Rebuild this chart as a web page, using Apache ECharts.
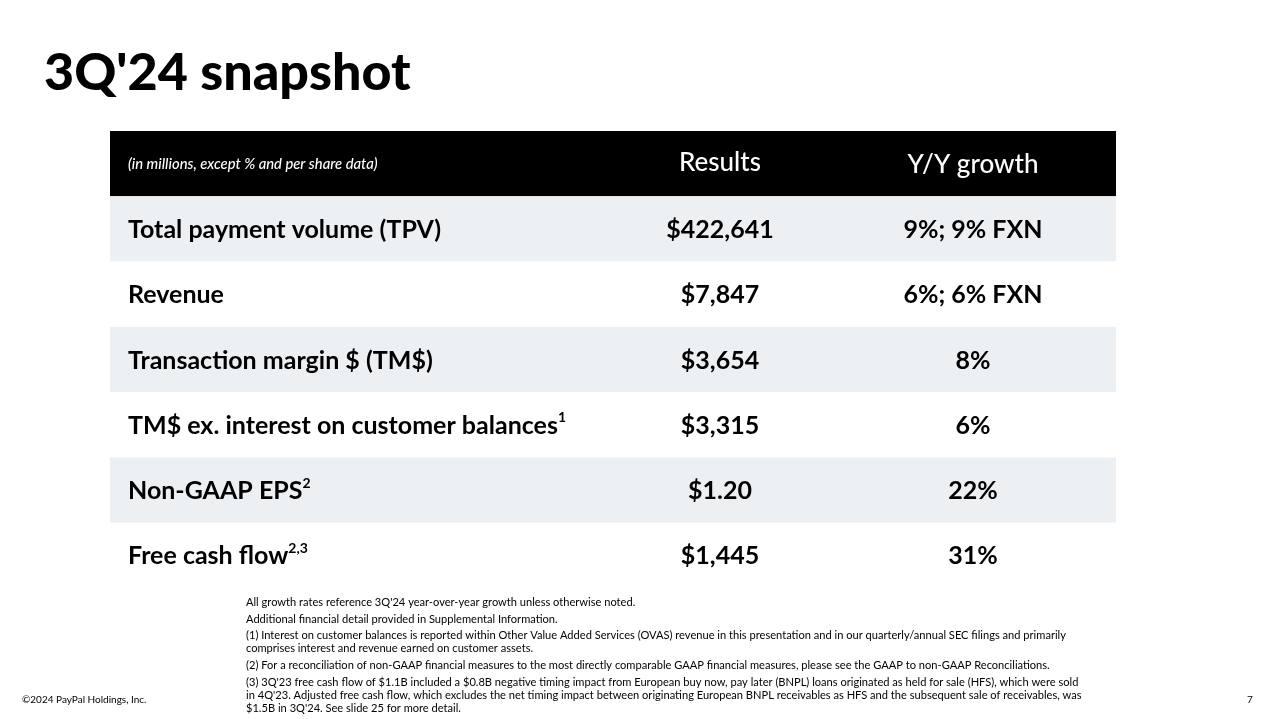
<!DOCTYPE html>
<html><head><meta charset="utf-8">
<script src="https://cdn.jsdelivr.net/npm/echarts@6/dist/echarts.min.js"></script>
<style>html,body{margin:0;padding:0;background:#fff}#c{width:1280px;height:719px}</style>
</head><body><div id="c"></div>
<script>
const titleText = "3Q'24 snapshot";
const headerNote = "(in millions, except % and per share data)";
const columnHeaders = ["Results", "Y/Y growth"];
const metrics = ["Total payment volume (TPV)", "Revenue", "Transaction margin $ (TM$)", "TM$ ex. interest on customer balances", "Non-GAAP EPS", "Free cash flow"];
const footRefs = ["", "", "", "1", "2", "2,3"];
const results = ["$422,641", "$7,847", "$3,654", "$3,315", "$1.20", "$1,445"];
const growth = ["9%; 9% FXN", "6%; 6% FXN", "8%", "6%", "22%", "31%"];
const footnotes = [
  "All growth rates reference 3Q'24 year-over-year growth unless otherwise noted.",
  "Additional financial detail provided in Supplemental Information.",
  "(1) Interest on customer balances is reported within Other Value Added Services (OVAS) revenue in this presentation and in our quarterly/annual SEC filings and primarily",
  "comprises interest and revenue earned on customer assets.",
  "(2) For a reconciliation of non-GAAP financial measures to the most directly comparable GAAP financial measures, please see the GAAP to non-GAAP Reconciliations.",
  "(3) 3Q'23 free cash flow of $1.1B included a $0.8B negative timing impact from European buy now, pay later (BNPL) loans originated as held for sale (HFS), which were sold",
  "in 4Q'23. Adjusted free cash flow, which excludes the net timing impact between originating European BNPL receivables as HFS and the subsequent sale of receivables, was",
  "$1.5B in 3Q'24. See slide 25 for more detail."
];
const copyright = "©2024 PayPal Holdings, Inc.";
const pageNumber = "7";

const FONT = "Lato";
const rowNames = ["header"].concat(metrics);
const rowData = rowNames.map((n, i) => [0, i]);
const footY = [603, 620, 636, 649, 666, 683, 696, 709];

const chart = echarts.init(document.getElementById('c'), null, {renderer: 'canvas'});
function renderItem(params, api) {
  const i = params.dataIndex;
  const cs = params.coordSys;
  const y = api.coord([0, i])[1];
  const h = api.size([0, 1])[1];
  const children = [];
  const bg = i === 0 ? '#000000' : (i % 2 === 1 ? '#edf0f3' : '#ffffff');
  children.push({type: 'rect', shape: {x: cs.x, y: y - h / 2, width: cs.width, height: h}, style: {fill: bg}});
  const c1 = cs.x + 610, c2 = cs.x + 863;
  if (i === 0) {
    children.push({type: 'text', style: {x: cs.x + 18, y: y + 1, text: headerNote, fill: '#fff', font: 'italic 500 14.8px ' + FONT, verticalAlign: 'middle', align: 'left'}});
    children.push({type: 'text', style: {x: c1, y: y - 1, text: columnHeaders[0], fill: '#fff', font: '500 26px ' + FONT, verticalAlign: 'middle', align: 'center'}});
    children.push({type: 'text', style: {x: c2, y: y + 1, text: columnHeaders[1], fill: '#fff', font: '500 26px ' + FONT, verticalAlign: 'middle', align: 'center'}});
  } else {
    const k = i - 1;
    const sup = footRefs[k];
    children.push({type: 'text', style: {
      x: cs.x + 18, y: y + 1,
      text: '{m|' + metrics[k] + '}' + (sup ? '{s|' + sup + '}' : ''),
      verticalAlign: 'middle', align: 'left',
      rich: {
        m: {fontFamily: FONT, fontSize: 25, fontWeight: 'bold', fill: '#000', lineHeight: 30},
        s: {fontFamily: FONT, fontSize: 14, fontWeight: 'bold', fill: '#000', lineHeight: 18, verticalAlign: 'top'}
      }
    }});
    children.push({type: 'text', style: {x: c1, y: y + 1, text: results[k], fill: '#000', font: 'bold 25px ' + FONT, verticalAlign: 'middle', align: 'center'}});
    children.push({type: 'text', style: {x: c2, y: y + 1, text: growth[k], fill: '#000', font: 'bold 25px ' + FONT, verticalAlign: 'middle', align: 'center'}});
  }
  return {type: 'group', children: children};
}

const graphics = [
  {type: 'text', left: 44, top: 47, style: {text: titleText, fill: '#000', font: '900 52px ' + FONT}},
  {type: 'text', left: 22, top: 695, style: {text: copyright, fill: '#000', font: '10px ' + FONT}},
  {type: 'text', left: 1247, top: 695, style: {text: pageNumber, fill: '#000', font: '10px ' + FONT}}
];
footnotes.forEach((t, j) => {
  graphics.push({type: 'text', left: 246, top: footY[j] - 6.5, style: {text: t, fill: '#000', font: '11.1px ' + FONT}});
});

chart.setOption({
  animation: false,
  backgroundColor: '#fff',
  grid: {left: 110, right: 164, top: 131, bottom: 131},
  xAxis: {type: 'value', min: 0, max: 1, show: false},
  yAxis: {type: 'category', data: rowNames, inverse: true, show: false},
  series: [{type: 'custom', renderItem: renderItem, data: rowData, encode: {x: 0, y: 1}, silent: true}],
  graphic: graphics
});
</script>
</body></html>
